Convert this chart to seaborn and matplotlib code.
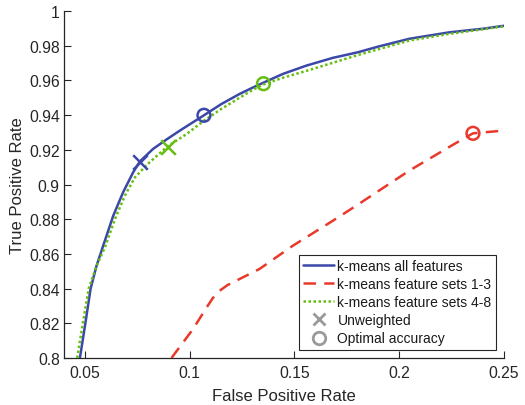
import numpy as np
import pandas as pd
import matplotlib
matplotlib.use("Agg")
import matplotlib.pyplot as plt
import seaborn as sns
from matplotlib.lines import Line2D

# ---- data ----
all_fpr = [0.0476, 0.0502, 0.0527, 0.0555, 0.0587, 0.0635, 0.0682, 0.0730, 0.0762, 0.0825,
           0.0890, 0.0952, 0.1068, 0.1150, 0.1238, 0.1300, 0.1352, 0.1444, 0.1556, 0.1683,
           0.1802, 0.1900, 0.2048, 0.2238, 0.2400, 0.2500]
all_tpr = [0.800, 0.820, 0.840, 0.853, 0.8647, 0.882, 0.8955, 0.907, 0.9133, 0.9205,
           0.926, 0.931, 0.9399, 0.9463, 0.9522, 0.9558, 0.9587, 0.9637, 0.9685, 0.9730,
           0.9762, 0.9795, 0.9840, 0.9877, 0.9898, 0.9915]

s13_fpr = [0.0913, 0.1016, 0.1080, 0.1110, 0.1140, 0.1180, 0.1333, 0.1492, 0.1683, 0.1810,
           0.2048, 0.2262, 0.2352, 0.2492]
s13_tpr = [0.800, 0.8167, 0.8290, 0.8345, 0.8385, 0.8420, 0.8513, 0.8647, 0.8791, 0.8890,
           0.9080, 0.9233, 0.9295, 0.9310]

s48_fpr = [0.0463, 0.0490, 0.0518, 0.0555, 0.0595, 0.0643, 0.0690, 0.0738, 0.0794, 0.0894,
           0.0984, 0.1068, 0.1150, 0.1238, 0.1300, 0.1352, 0.1444, 0.1587, 0.1802, 0.2048,
           0.2238, 0.2400, 0.2500]
s48_tpr = [0.800, 0.820, 0.840, 0.853, 0.8637, 0.880, 0.8935, 0.904, 0.9112, 0.922,
           0.929, 0.9368, 0.9435, 0.9500, 0.9545, 0.9577, 0.9615, 0.9666, 0.9746, 0.9830,
           0.9868, 0.9895, 0.9912]

series_names = ["k-means all features", "k-means feature sets 1-3", "k-means feature sets 4-8"]
unweighted_fpr = [0.0764, None, 0.0895]
unweighted_tpr = [0.9132, None, 0.9219]
optimal_fpr = [0.1068, 0.2352, 0.1352]
optimal_tpr = [0.9399, 0.9295, 0.9581]

x_ticks = [0.05, 0.1, 0.15, 0.2, 0.25]
y_ticks = [0.8, 0.82, 0.84, 0.86, 0.88, 0.9, 0.92, 0.94, 0.96, 0.98, 1.0]

# ---- style ----
sns.set_theme(style="white")
plt.rcParams["font.family"] = ["Liberation Sans", "DejaVu Sans"]

BLUE = "#3B48A8"
RED = "#E8392A"
GREEN = "#66BE10"
GRAY = "#9A9A9A"
TXT = "#262626"

fig = plt.figure(figsize=(5.25, 4.06), dpi=100)
ax = fig.add_axes([0.1219, 0.1158, 0.8381, 0.8546])

df_all = pd.DataFrame({"fpr": all_fpr, "tpr": all_tpr})
df_13 = pd.DataFrame({"fpr": s13_fpr, "tpr": s13_tpr})
df_48 = pd.DataFrame({"fpr": s48_fpr, "tpr": s48_tpr})

lw = 1.8
DASH = (0, (5.0, 3.3))
DOT = (0, (1, 1))
sns.lineplot(data=df_all, x="fpr", y="tpr", sort=False, estimator=None, ax=ax,
             color=BLUE, linewidth=lw, zorder=3)
sns.lineplot(data=df_13, x="fpr", y="tpr", sort=False, estimator=None, ax=ax,
             color=RED, linewidth=lw, linestyle=DASH, zorder=3)
sns.lineplot(data=df_48, x="fpr", y="tpr", sort=False, estimator=None, ax=ax,
             color=GREEN, linewidth=lw, linestyle=DOT, zorder=4)

colors = [BLUE, RED, GREEN]
for i, c in enumerate(colors):
    if unweighted_fpr[i] is not None:
        sns.scatterplot(x=[unweighted_fpr[i]], y=[unweighted_tpr[i]], ax=ax, marker="x",
                        s=110, color=c, linewidth=1.8, zorder=5)
    sns.scatterplot(x=[optimal_fpr[i]], y=[optimal_tpr[i]], ax=ax, marker="o",
                    s=85, facecolor="none", edgecolor=c, linewidth=1.8, zorder=5)

ax.set_xlim(0.04, 0.25)
ax.set_ylim(0.8, 1.0)
ax.set_xticks(x_ticks)
ax.set_xticklabels([f"{v:g}" for v in x_ticks])
ax.set_yticks(y_ticks)
ax.set_yticklabels([f"{v:g}" for v in y_ticks])
ax.tick_params(direction="in", length=5, width=0.8, colors=TXT, labelsize=11.3,
               left=True, bottom=True)
ax.tick_params(axis="x", pad=5)
ax.tick_params(axis="y", pad=3)
ax.set_xlabel("False Positive Rate", fontsize=12, color=TXT, labelpad=6)
ax.set_ylabel("True Positive Rate", fontsize=12, color=TXT, labelpad=3)
for side in ["top", "right"]:
    ax.spines[side].set_visible(False)
for side in ["left", "bottom"]:
    ax.spines[side].set_color(TXT)
    ax.spines[side].set_linewidth(0.9)

handles = [
    Line2D([], [], color=BLUE, lw=lw),
    Line2D([], [], color=RED, lw=lw, linestyle=DASH),
    Line2D([], [], color=GREEN, lw=lw, linestyle=DOT),
    Line2D([], [], color=GRAY, marker="x", markersize=9, markeredgewidth=2, lw=0),
    Line2D([], [], color=GRAY, marker="o", markersize=9, markeredgewidth=2,
           markerfacecolor="none", lw=0),
]
labels = series_names + ["Unweighted", "Optimal accuracy"]
leg = ax.legend(handles, labels, loc="lower right", fontsize=10, frameon=True,
                fancybox=False, edgecolor=TXT, framealpha=1, borderpad=0.3,
                labelspacing=0.3, handlelength=2.2, handletextpad=0.25,
                borderaxespad=0.6)
leg.get_frame().set_linewidth(0.8)
for t in leg.get_texts():
    t.set_color("#1a1a1a")

fig.savefig("out.png", dpi=100)
